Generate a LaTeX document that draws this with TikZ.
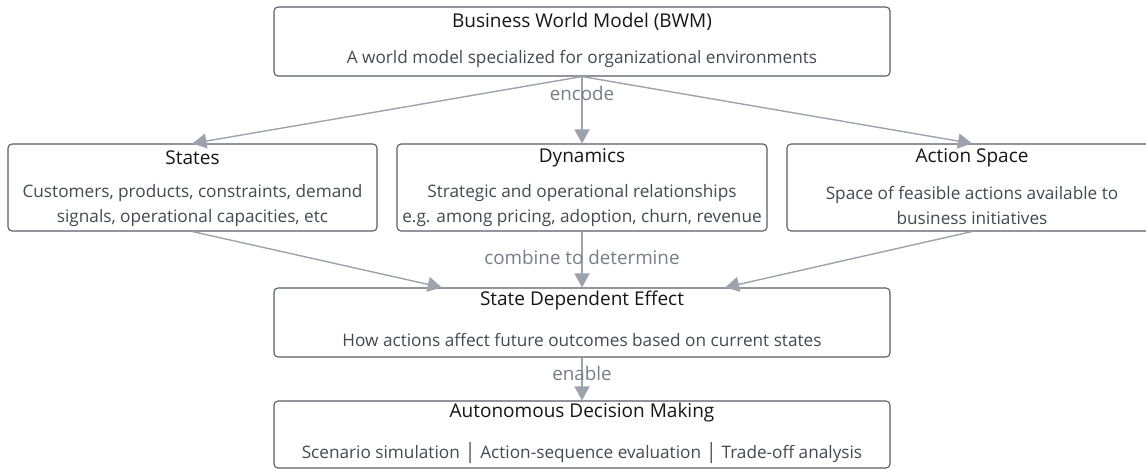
\documentclass[tikz,border=0pt]{standalone}
\usepackage{fontspec}
\setmainfont{Open Sans}
\usetikzlibrary{arrows.meta,calc}
\definecolor{boxline}{RGB}{88,93,103}
\definecolor{conn}{RGB}{156,163,173}
\definecolor{lbl}{RGB}{120,126,136}
\definecolor{subtxt}{RGB}{68,73,82}
\definecolor{ttl}{RGB}{22,22,22}
\tikzset{
  x=1pt, y=-1pt,
  box/.style={draw=boxline, line width=1.1pt, rounded corners=4pt, inner sep=0pt, fill=white},
  ttltext/.style={text=ttl, font=\fontsize{19}{22}\selectfont, inner sep=0pt},
  subtext/.style={text=subtxt, font=\fontsize{17.2}{25}\selectfont, inner sep=0pt, align=center},
  lbltext/.style={text=lbl, font=\fontsize{18.8}{22}\selectfont, inner sep=0pt},
  conn/.style={draw=conn, line width=1.4pt, -{Triangle[length=14pt,width=15pt]}},
}
\begin{document}
\begin{tikzpicture}
\useasboundingbox[fill=white] (0,0) rectangle (1146,469);
% boxes
\node[box, minimum width=616pt, minimum height=69pt] (bwm) at (582,41.5) {};
\node[box, minimum width=369pt, minimum height=87pt] (states) at (192.5,187.5) {};
\node[box, minimum width=370pt, minimum height=87pt] (dyn) at (582,187.5) {};
\node[box, minimum width=370pt, minimum height=87pt] (act) at (972,187.5) {};
\node[box, minimum width=616pt, minimum height=69pt] (sde) at (582,322.5) {};
\node[box, minimum width=616pt, minimum height=67pt] (adm) at (582,434.5) {};
% texts
\node[ttltext] (bwmT) at (582,22) {Business World Model (BWM)};
\node[subtext] (bwmS) at (582,59) {A world model specialized for organizational environments};
\node[ttltext] (statesT) at (192.5,158) {States};
\node[subtext] (statesS) at (192.5,205.5) {Customers, products, constraints, demand\\signals, operational capacities, etc};
\node[ttltext] (dynT) at (582,158) {Dynamics};
\node[subtext] (dynS) at (582,205.5) {Strategic and operational relationships\\e.g. among pricing, adoption, churn, revenue};
\node[ttltext] (actT) at (972,158) {Action Space};
\node[subtext] (actS) at (972,205.5) {Space of feasible actions available to\\business initiatives};
\node[ttltext] (sdeT) at (582,301) {State Dependent Effect};
\node[subtext] (sdeS) at (582,340) {How actions affect future outcomes based on current states};
\node[ttltext] (admT) at (582,413) {Autonomous Decision Making};
\node[subtext] (admS) at (582,453) {Scenario simulation {\fontsize{21}{25}\selectfont\color{boxline}|} Action-sequence evaluation {\fontsize{21}{25}\selectfont\color{boxline}|} Trade-off analysis};
% connectors
\coordinate (sdeL) at ($(sde.north west)!0.2727!(sde.north east)$);
\coordinate (sdeR) at ($(sde.north west)!0.732!(sde.north east)$);
\draw[conn] (bwm.south) -- (states.north);
\draw[conn] (bwm.south) -- (dyn.north);
\draw[conn] (bwm.south) -- (act.north);
\draw[conn] (states.south) -- (sdeL);
\draw[conn] (dyn.south) -- (sde.north);
\draw[conn] (act.south) -- (sdeR);
\draw[conn] (sde.south) -- (adm.north);
% labels
\node[lbltext] (encL) at (582,93) {encode};
\node[lbltext] (combL) at (582,257) {combine to determine};
\node[lbltext] (enL) at (582,373) {enable};
\end{tikzpicture}
\end{document}
